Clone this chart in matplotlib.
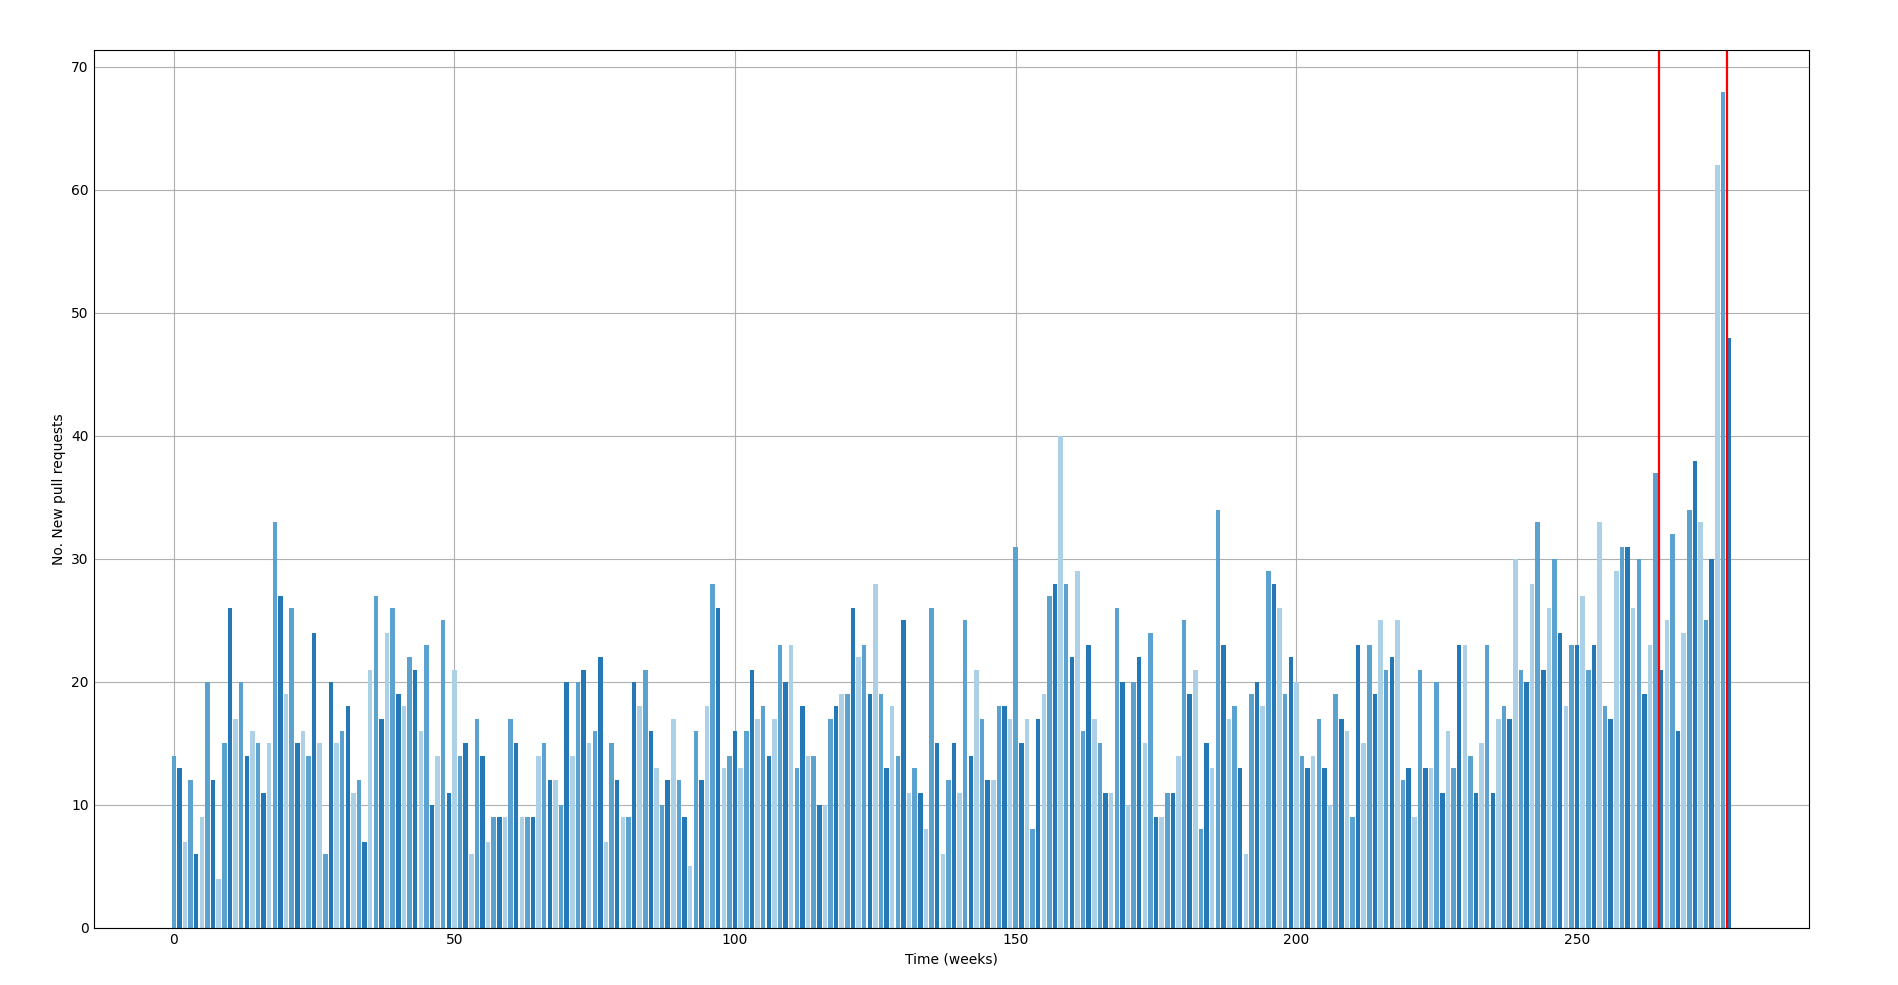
import numpy as np
import matplotlib
matplotlib.use("Agg")
import matplotlib.pyplot as plt

# new pull requests per week
counts = [
    14, 13, 7, 12, 6, 9, 20, 12, 4, 15, 26, 17, 20, 14, 16, 15, 11, 15, 33, 27, 19, 26, 15, 16, 14, 24, 15, 6,
    20, 15, 16, 18, 11, 12, 7, 21, 27, 17, 24, 26, 19, 18, 22, 21, 16, 23, 10, 14, 25, 11, 21, 14, 15, 6, 17, 14,
    7, 9, 9, 9, 17, 15, 9, 9, 9, 14, 15, 12, 12, 10, 20, 14, 20, 21, 15, 16, 22, 7, 15, 12, 9, 9, 20, 18, 21,
    16, 13, 10, 12, 17, 12, 9, 5, 16, 12, 18, 28, 26, 13, 14, 16, 13, 16, 21, 17, 18, 14, 17, 23, 20, 23, 13, 18,
    14, 14, 10, 10, 17, 18, 19, 19, 26, 22, 23, 19, 28, 19, 13, 18, 14, 25, 11, 13, 11, 8, 26, 15, 6, 12, 15, 11,
    25, 14, 21, 17, 12, 12, 18, 18, 17, 31, 15, 17, 8, 17, 19, 27, 28, 40, 28, 22, 29, 16, 23, 17, 15, 11, 11, 26,
    20, 10, 20, 22, 15, 24, 9, 9, 11, 11, 14, 25, 19, 21, 8, 15, 13, 34, 23, 17, 18, 13, 6, 19, 20, 18, 29, 28,
    26, 19, 22, 20, 14, 13, 14, 17, 13, 10, 19, 17, 16, 9, 23, 15, 23, 19, 25, 21, 22, 25, 12, 13, 9, 21, 13, 13, 20,
    11, 16, 13, 23, 23, 14, 11, 15, 23, 11, 17, 18, 17, 30, 21, 20, 28, 33, 21, 26, 30, 24, 18, 23, 23, 27, 21, 23,
    33, 18, 17, 29, 31, 31, 26, 30, 19, 23, 37, 21, 25, 32, 16, 24, 34, 38, 33, 25, 30, 62, 68, 48,
]
weeks = np.arange(len(counts))
bar_colors = ['#5ba2d0', '#2378b5', '#acd0e6']
markers = [264.6, 276.7]

fig = plt.figure(figsize=(18.98, 9.85), dpi=100)
ax = fig.add_subplot(111)
fig.subplots_adjust(left=0.0493, right=0.953, bottom=0.058, top=0.9495)

colors = [bar_colors[i % 3] for i in range(len(counts))]
ax.bar(weeks, counts, width=0.8, color=colors)
for m in markers:
    ax.axvline(m, color='red', linewidth=1.6)

ax.grid(True, color='#b0b0b0', linewidth=0.8)
ax.set_axisbelow(True)
ax.tick_params(length=0)
ax.set_xlabel('Time (weeks)')
ax.set_ylabel('No. New pull requests')

fig.savefig('out.png', dpi=100)
